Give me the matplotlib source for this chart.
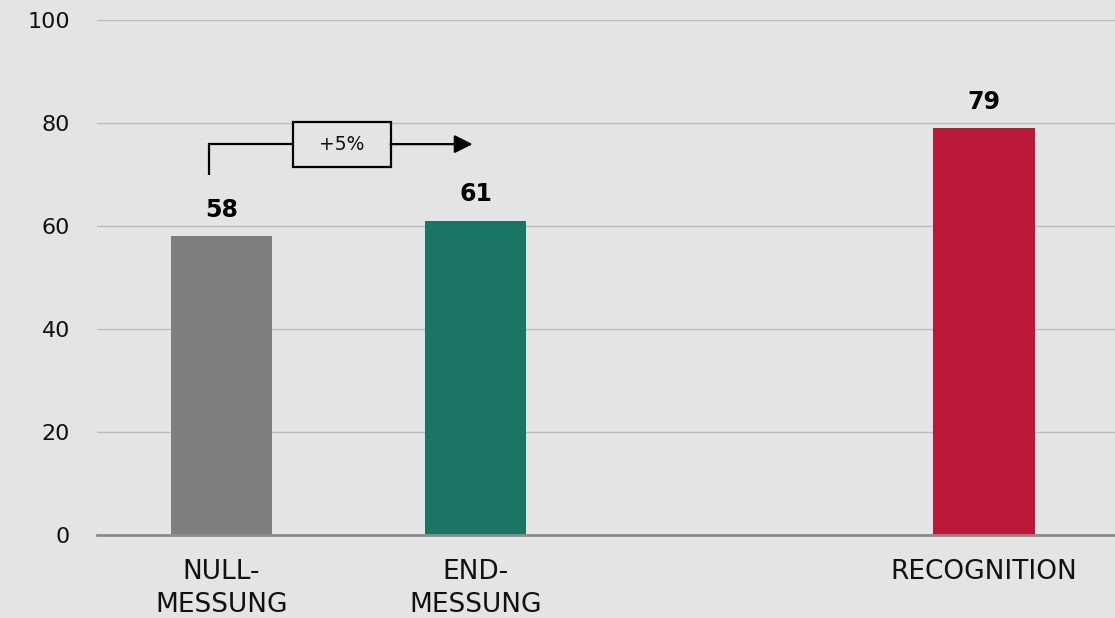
import matplotlib
matplotlib.use("Agg")
import matplotlib.pyplot as plt
from matplotlib.patches import Rectangle

plt.rcParams['font.family'] = ['DejaVu Sans']

categories = ["NULL-\nMESSUNG", "END-\nMESSUNG", "RECOGNITION"]
positions = [0, 1, 3]
values = [58, 61, 79]
colors = ["#7f7f7f", "#1b7565", "#bc1839"]
yticks = [0, 20, 40, 60, 80, 100]
change_label = "+5%"

bg = "#e4e4e4"
fig = plt.figure(figsize=(11.15, 6.18), dpi=100, facecolor=bg)
ax = fig.add_axes([0.087, 0.1343, 0.913, 0.8333], facecolor=bg)

ax.bar(positions, values, width=0.4, color=colors, zorder=3)
for x, v in zip(positions, values):
    ax.annotate(str(v), (x, v), xytext=(0, 14), textcoords="offset points",
                ha="center", va="baseline", fontsize=17, fontweight="bold",
                color="#000000")

ax.set_xlim(-0.49, 3.516)
ax.set_ylim(0, 100)
ax.set_yticks(yticks)
ax.set_xticks(positions)
ax.set_xticklabels(categories, fontsize=19, linespacing=1.32, color="#111111")
ax.tick_params(axis="x", length=0, pad=17.5)
ax.tick_params(axis="y", length=0, pad=19.5, labelsize=16, labelcolor="#111111")
ax.grid(axis="y", color="#bcbcbc", linewidth=1, zorder=0)
for s in ["top", "right", "left"]:
    ax.spines[s].set_visible(False)
ax.spines["bottom"].set_color("#8c8c8c")
ax.spines["bottom"].set_linewidth(2)
ax.spines["bottom"].set_zorder(4)

# change annotation
y_line = 75.9
ax.plot([-0.051, -0.051, 0.28], [69.9, y_line, y_line], color="black", lw=1.6,
        solid_capstyle="butt", solid_joinstyle="miter", zorder=5)
ax.add_patch(Rectangle((0.28, 71.5), 0.385, 8.7, facecolor=bg, edgecolor="black",
                       lw=1.6, zorder=5))
ax.text(0.4725, 75.85, change_label, ha="center", va="center", fontsize=13.5,
        color="#111111", zorder=6)
ax.annotate("", xy=(0.988, y_line), xytext=(0.665, y_line),
            arrowprops=dict(arrowstyle="-|>,head_length=1.1,head_width=0.55",
                            color="black", lw=1.6, shrinkA=0, shrinkB=0),
            zorder=5)

fig.savefig("out.png", dpi=100, facecolor=bg)
